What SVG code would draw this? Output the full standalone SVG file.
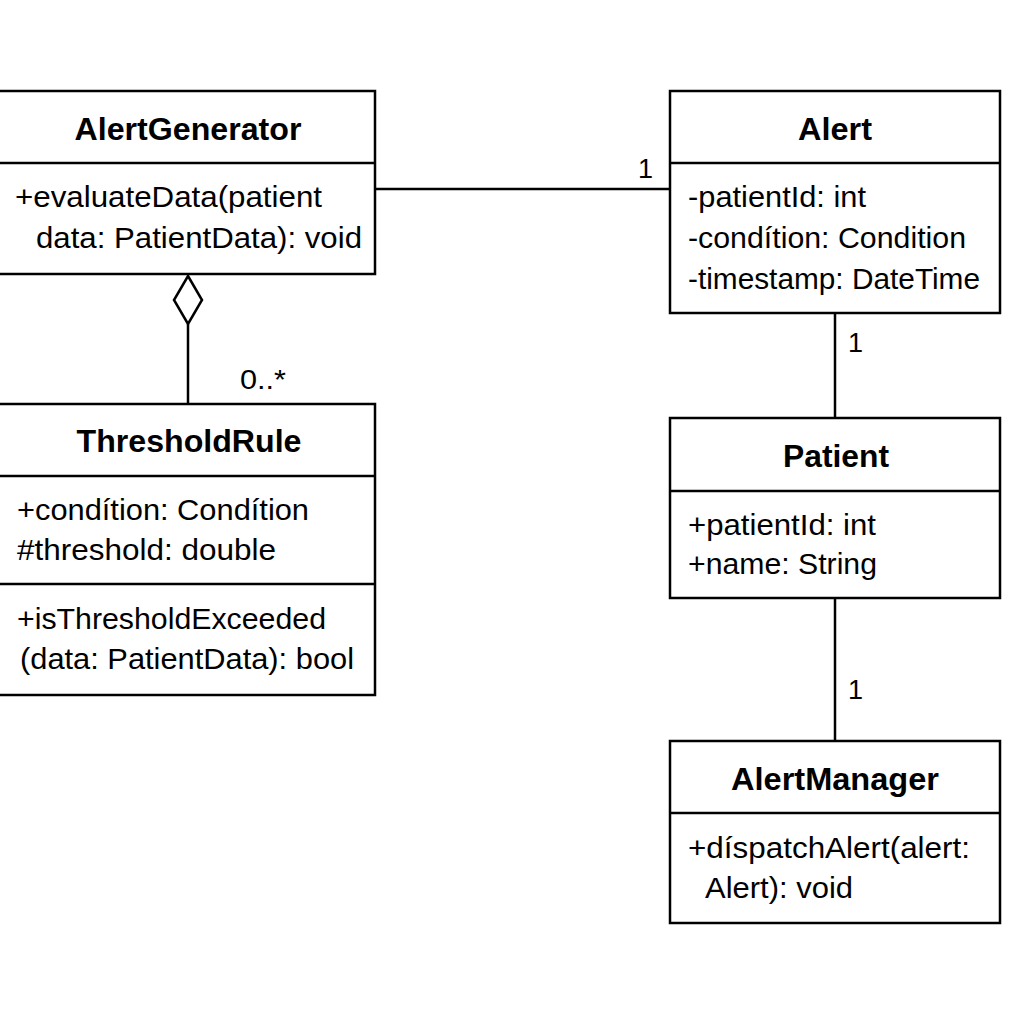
<svg xmlns="http://www.w3.org/2000/svg" width="1024" height="1024" viewBox="0 0 1024 1024">
<style>
.box{fill:#fff;stroke:#000;stroke-width:2.5}
.div{stroke:#000;stroke-width:2.5}
.t{font-family:"Liberation Sans",Arial,sans-serif;font-size:31px;font-weight:bold;text-anchor:middle;fill:#000}
.b{font-family:"Liberation Sans",Arial,sans-serif;font-size:29px;fill:#000}
.c{stroke:#000;stroke-width:2.5;fill:none}
.m{font-family:"Liberation Sans",Arial,sans-serif;font-size:27px;fill:#000}
</style>
<rect width="1024" height="1024" fill="#fff"/>
<g id="connectors">
<line class="c" x1="375" y1="189" x2="670" y2="189"/>
<text class="m" x="638" y="178">1</text>
<line class="c" x1="835" y1="313" x2="835" y2="418"/>
<text class="m" x="848" y="352">1</text>
<line class="c" x1="835" y1="598" x2="835" y2="741"/>
<text class="m" x="848" y="699">1</text>
<polygon class="c" points="188,276 202,300 188,324 174,300" style="fill:#fff"/>
<line class="c" x1="188" y1="324" x2="188" y2="404"/>
<text class="m" x="240" y="389" textLength="46" lengthAdjust="spacingAndGlyphs">0..*</text>
</g>
<g id="AlertGenerator">
<rect class="box" x="-2" y="91" width="377" height="183"/>
<line class="div" x1="-2" y1="163" x2="375" y2="163"/>
<text class="t" x="188" y="140" textLength="227" lengthAdjust="spacingAndGlyphs">AlertGenerator</text>
<text class="b" x="15" y="207" textLength="307" lengthAdjust="spacingAndGlyphs">+evaluateData(patient</text>
<text class="b" x="36" y="248" textLength="326" lengthAdjust="spacingAndGlyphs">data: PatientData): void</text>
</g>
<g id="Alert">
<rect class="box" x="670" y="91" width="330" height="222"/>
<line class="div" x1="670" y1="163" x2="1000" y2="163"/>
<text class="t" x="835" y="140" textLength="74" lengthAdjust="spacingAndGlyphs">Alert</text>
<text class="b" x="688" y="207" textLength="178" lengthAdjust="spacingAndGlyphs">-patientId: int</text>
<text class="b" x="688" y="248" textLength="278" lengthAdjust="spacingAndGlyphs">-condítion: Condition</text>
<text class="b" x="688" y="289" textLength="292" lengthAdjust="spacingAndGlyphs">-timestamp: DateTime</text>
</g>
<g id="ThresholdRule">
<rect class="box" x="-2" y="404" width="377" height="291"/>
<line class="div" x1="-2" y1="476" x2="375" y2="476"/>
<line class="div" x1="-2" y1="584" x2="375" y2="584"/>
<text class="t" x="189" y="452" textLength="225" lengthAdjust="spacingAndGlyphs">ThresholdRule</text>
<text class="b" x="17" y="520" textLength="292" lengthAdjust="spacingAndGlyphs">+condítion: Condítion</text>
<text class="b" x="17" y="560" textLength="259" lengthAdjust="spacingAndGlyphs">#threshold: double</text>
<text class="b" x="17" y="629" textLength="309" lengthAdjust="spacingAndGlyphs">+isThresholdExceeded</text>
<text class="b" x="20" y="669" textLength="334" lengthAdjust="spacingAndGlyphs">(data: PatientData): bool</text>
</g>
<g id="Patient">
<rect class="box" x="670" y="418" width="330" height="180"/>
<line class="div" x1="670" y1="491" x2="1000" y2="491"/>
<text class="t" x="836" y="467" textLength="106" lengthAdjust="spacingAndGlyphs">Patient</text>
<text class="b" x="688" y="535" textLength="188" lengthAdjust="spacingAndGlyphs">+patientId: int</text>
<text class="b" x="688" y="574" textLength="189" lengthAdjust="spacingAndGlyphs">+name: String</text>
</g>
<g id="AlertManager">
<rect class="box" x="670" y="741" width="330" height="182"/>
<line class="div" x1="670" y1="813" x2="1000" y2="813"/>
<text class="t" x="835" y="790" textLength="208" lengthAdjust="spacingAndGlyphs">AlertManager</text>
<text class="b" x="688" y="858" textLength="282" lengthAdjust="spacingAndGlyphs">+díspatchAlert(alert:</text>
<text class="b" x="705" y="898" textLength="148" lengthAdjust="spacingAndGlyphs">Alert): void</text>
</g>
</svg>
